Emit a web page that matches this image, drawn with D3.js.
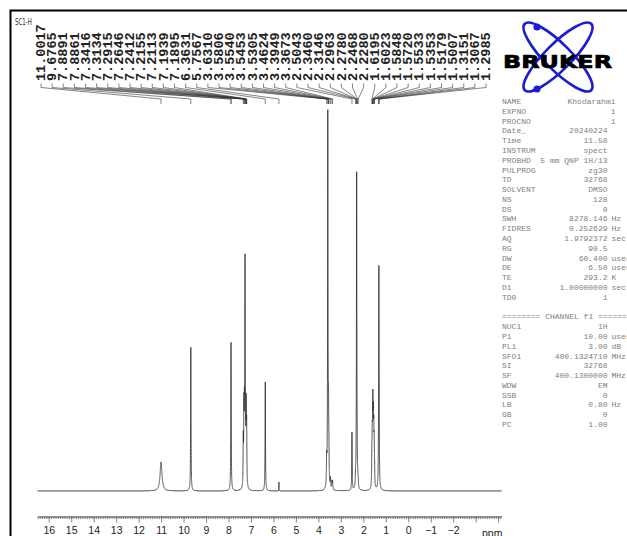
<!DOCTYPE html>
<html>
<head>
<meta charset="utf-8">
<script src="https://cdn.jsdelivr.net/npm/d3@7"></script>
<style>
html,body{margin:0;padding:0;background:#fff;overflow:hidden}
</style>
</head>
<body>
<svg id="chart" width="627" height="536"></svg>
<script>
// ---- 1H NMR peak list (ppm) with intensities and half-widths (ppm) ----
const peakShifts = [11.0017, 9.6765, 7.8891, 7.8861, 7.3416, 7.3134, 7.2915, 7.2646, 7.2412,
  7.2155, 7.2113, 7.1939, 7.1895, 6.3631, 5.7567, 3.6310, 3.5806, 3.5540, 3.5453, 3.5305,
  3.4624, 3.3949, 3.3673, 2.5043, 2.3460, 2.3146, 2.2963, 2.2780, 2.2468, 2.2280, 1.6195,
  1.6023, 1.5848, 1.5720, 1.5533, 1.5353, 1.5179, 1.5007, 1.3151, 1.3067, 1.2985];
const peakHeights = [29, 144, 76, 76, 45, 72, 60, 215, 50,
  40, 35, 30, 27, 109, 9, 25, 372, 40, 35, 25,
  10, 8, 8, 58, 10, 14, 312, 14, 8, 6, 30,
  40, 50, 60, 55, 45, 35, 18, 55, 160, 55];
const peakHalfWidths = [0.05, 0.01, 0.01, 0.01, 0.01, 0.01, 0.01, 0.01, 0.01,
  0.01, 0.01, 0.01, 0.01, 0.01, 0.005, 0.012, 0.01, 0.01, 0.01, 0.01,
  0.012, 0.012, 0.012, 0.01, 0.01, 0.01, 0.01, 0.01, 0.01, 0.01, 0.01,
  0.01, 0.01, 0.01, 0.01, 0.01, 0.01, 0.01, 0.01, 0.01, 0.01];

// ppm axis
const ppmRange = [16.5, -4.15];
const majorTicks = [16, 15, 14, 13, 12, 11, 10, 9, 8, 7, 6, 5, 4, 3, 2, 1, 0, -1, -2, -3, -4];
const labelledTicks = [16, 15, 14, 13, 12, 11, 10, 9, 8, 7, 6, 5, 4, 3, 2, 1, 0, -1, -2];

// acquisition / processing parameters
const paramNames = ["NAME", "EXPNO", "PROCNO", "Date_", "Time", "INSTRUM", "PROBHD", "PULPROG",
  "TD", "SOLVENT", "NS", "DS", "SWH", "FIDRES", "AQ", "RG", "DW", "DE", "TE", "D1", "TD0"];
const paramValues = ["Khodarahmi", "1", "1", "20240224", "11.58", "spect", "5 mm QNP 1H/13", "zg30",
  "32768", "DMSO", "128", "0", "8278.146", "0.252629", "1.9792372", "90.5", "60.400", "6.50",
  "293.2", "1.00000000", "1"];
const paramUnits = ["", "", "", "", "", "", "", "", "", "", "", "", "Hz", "Hz", "sec", "",
  "usec", "usec", "K", "sec", ""];
const channelNames = ["NUC1", "P1", "PL1", "SFO1", "SI", "SF", "WDW", "SSB", "LB", "GB", "PC"];
const channelValues = ["1H", "10.00", "3.00", "400.1324710", "32768", "400.1300000", "EM", "0", "0.80", "0", "1.00"];
const channelUnits = ["", "usec", "dB", "MHz", "", "MHz", "", "", "Hz", "", ""];

const svg = d3.select("#chart");

// frame
svg.append("path").attr("d", "M10.5,536 V10.5 H627")
  .attr("fill", "none").attr("stroke", "#000").attr("stroke-width", 2);

svg.append("text").attr("x", 15).attr("y", 25)
  .attr("font-family", "DejaVu Sans").attr("font-size", 8)
  .attr("textLength", 17).attr("lengthAdjust", "spacingAndGlyphs")
  .attr("fill", "#333").text("SC1-H");

// scales
const x = d3.scaleLinear().domain(ppmRange).range([37.5, 501.5]);
const y = d3.scaleLinear().domain([0, 382]).range([491, 109]);

// spectrum: sum of Lorentzian lines over the sweep
const step = 0.001;
const nPts = Math.round((ppmRange[0] - ppmRange[1]) / step);
const spectrum = d3.range(nPts + 1).map(i => {
  const p = ppmRange[0] - i * step;
  let v = 0;
  for (let k = 0; k < peakShifts.length; k++) {
    const g = peakHalfWidths[k], d = p - peakShifts[k];
    v += peakHeights[k] * g * g / (d * d + g * g);
  }
  return {p, v};
});

svg.append("path").datum(spectrum)
  .attr("fill", "none").attr("stroke", "#2a2a2a").attr("stroke-width", 0.8)
  .attr("d", d3.line().x(d => x(d.p)).y(d => y(d.v)));

// axis
const axisY = 516.5;
const minor = d3.range(-41, 166).map(i => i / 10);
const gMinor = svg.append("g").attr("transform", `translate(0,${axisY})`)
  .call(d3.axisBottom(x).tickValues(minor).tickSize(2.5).tickSizeOuter(0).tickFormat(""));
const gMajor = svg.append("g").attr("transform", `translate(0,${axisY})`)
  .call(d3.axisBottom(x).tickValues(majorTicks).tickSize(6).tickSizeOuter(0)
    .tickFormat(d => labelledTicks.includes(d) ? d3.format("d")(d) : ""));
[gMinor, gMajor].forEach(g => {
  g.selectAll("path,line").attr("stroke", "#666").attr("stroke-width", 0.8);
  g.selectAll("text").attr("font-family", "Liberation Sans").attr("font-size", 10.5)
    .attr("fill", "#222").attr("y", 12).attr("dy", "0.5em");
});
svg.append("text").attr("x", 482).attr("y", 536.5)
  .attr("font-family", "Liberation Sans").attr("font-size", 10.5).attr("fill", "#222").text("ppm");

// peak labels with leader lines
const labelX = i => 41 + 11.125 * i;
const gLab = svg.append("g");
peakShifts.forEach((p, i) => {
  const xl = labelX(i), xp = x(p);
  const s = p.toFixed(4);
  gLab.append("text")
    .attr("transform", `translate(${xl + 4.2},81) rotate(-90)`)
    .attr("font-family", "Liberation Mono").attr("font-size", 12.5).attr("font-weight", "bold")
    .attr("textLength", s.length * 8.1).attr("lengthAdjust", "spacingAndGlyphs")
    .attr("fill", "#222").text(s);
  gLab.append("path")
    .attr("d", `M${xl},83.5 V87.5 L${xp},99 V104`)
    .attr("fill", "none").attr("stroke", "#333").attr("stroke-width", 0.6);
});

// logo
const logo = svg.append("g");
[45, -45].forEach(a => {
  logo.append("ellipse").attr("cx", 0).attr("cy", 0).attr("rx", 47).attr("ry", 13)
    .attr("transform", `translate(558,57) rotate(${a})`)
    .attr("fill", "none").attr("stroke", "#1c1cd8").attr("stroke-width", 2.6);
});
[[537, 27], [537, 89]].forEach(([cx, cy]) => {
  logo.append("circle").attr("cx", cx).attr("cy", cy).attr("r", 3.6).attr("fill", "#1c1cd8");
});
logo.append("text").attr("x", 503).attr("y", 67.5)
  .attr("font-family", "DejaVu Sans").attr("font-weight", "bold").attr("font-size", 18)
  .attr("textLength", 109).attr("lengthAdjust", "spacingAndGlyphs")
  .attr("fill", "#000").attr("stroke", "#000").attr("stroke-width", 0.7).text("BRUKER");

// parameter block
const rowY = i => 104 + 9.79 * i;
const gPar = svg.append("g").attr("font-family", "Liberation Mono").attr("font-size", 8)
  .attr("fill", "#808080");
function paramRow(row, name, value, unit, valueRight) {
  gPar.append("text").attr("x", 502).attr("y", rowY(row)).text(name);
  gPar.append("text").attr("x", valueRight).attr("y", rowY(row)).attr("text-anchor", "end").text(value);
  if (unit) gPar.append("text").attr("x", 611.5).attr("y", rowY(row)).text(unit);
}
paramNames.forEach((n, i) => paramRow(i, n, paramValues[i], paramUnits[i], i < 3 ? 615.5 : 607.5));
gPar.append("text").attr("x", 502).attr("y", rowY(22)).attr("xml:space", "preserve")
  .text("======== CHANNEL f1 ========");
channelNames.forEach((n, i) => paramRow(23 + i, n, channelValues[i], channelUnits[i], 607.5));
</script>
</body>
</html>
